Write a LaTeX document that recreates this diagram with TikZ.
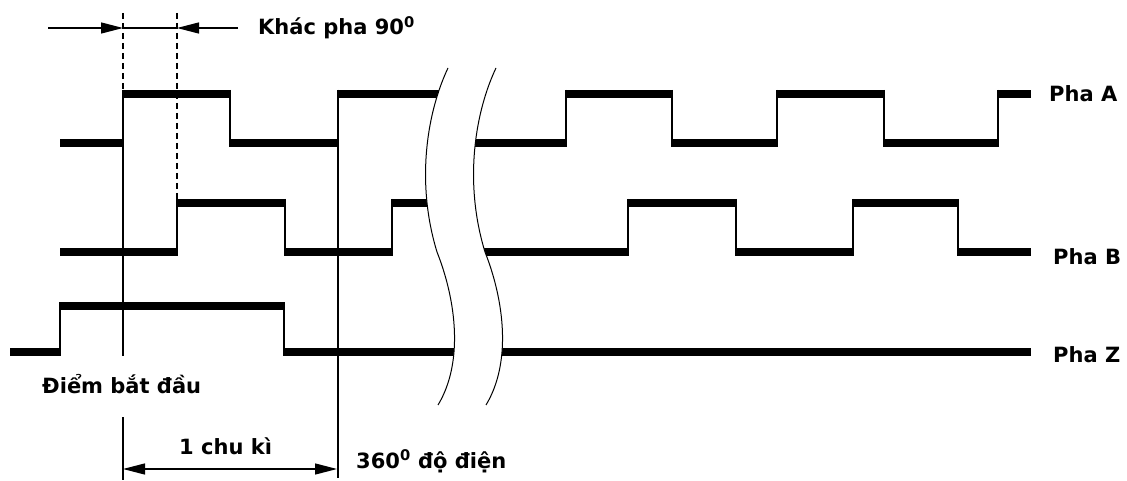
\documentclass[tikz,border=0pt]{standalone}
\usepackage{fontspec}
\setmainfont{DejaVu Sans}
\usetikzlibrary{arrows.meta}
\begin{document}
\begin{tikzpicture}[x=1pt,y=-1pt,
  hseg/.style={line width=8pt},
  vseg/.style={line width=1.6pt},
  lbl/.style={font=\fontsize{21}{25}\selectfont\bfseries, inner sep=0pt, anchor=base west},
  dashline/.style={line width=1.3pt, dash pattern=on 6pt off 4pt},
  refline/.style={line width=1.5pt},
  arr/.style={line width=1.3pt},
  breakline/.style={line width=1pt},
  tipR/.style={-{Triangle[length=22pt,width=11pt]}},
  tipLR/.style={{Triangle[length=22pt,width=11pt]}-{Triangle[length=22pt,width=11pt]}}
]
\useasboundingbox (0,0) rectangle (1127,481);

% ---- Pha A (high 94, low 143)
\draw[hseg] (60,143) -- (123,143) (123,94) -- (230,94) (230,143) -- (338,143)
  (338,94) -- (455,94) (455,143) -- (566,143) (566,94) -- (672,94)
  (672,143) -- (777,143) (777,94) -- (884,94) (884,143) -- (998,143)
  (998,94) -- (1031,94);
\draw[vseg] \foreach \x in {123,230,338,455,566,672,777,884,998} {(\x,90) -- (\x,147)};

% ---- Pha B (high 203, low 252)
\draw[hseg] (60,252) -- (177,252) (177,203) -- (285,203) (285,252) -- (392,252)
  (392,203) -- (455,203) (455,252) -- (628,252) (628,203) -- (736,203)
  (736,252) -- (853,252) (853,203) -- (958,203) (958,252) -- (1031,252);
\draw[vseg] \foreach \x in {177,285,392,455,628,736,853,958} {(\x,199) -- (\x,256)};

% ---- Pha Z (high 306, low 352)
\draw[hseg] (10,352) -- (60,352) (60,306) -- (284,306) (284,352) -- (1031,352);
\draw[vseg] \foreach \x in {60,284} {(\x,302) -- (\x,356)};

% ---- break band
\fill[white] (448,68) .. controls (428,110) and (415,180) .. (437,252)
  .. controls (456,300) and (464,362) .. (438,405)
  -- (486,405) .. controls (512,362) and (504,300) .. (485,252)
  .. controls (463,180) and (476,110) .. (496,68) -- cycle;
\draw[breakline] (448,68) .. controls (428,110) and (415,180) .. (437,252)
  .. controls (456,300) and (464,362) .. (438,405);
\draw[breakline] (496,68) .. controls (476,110) and (463,180) .. (485,252)
  .. controls (504,300) and (512,362) .. (486,405);

% ---- reference lines
\draw[dashline] (123,13) -- (123,90);
\draw[dashline] (177,13) -- (177,199);
\draw[refline] (123,90) -- (123,356);
\draw[refline] (123,417) -- (123,480);
\draw[refline] (338,90) -- (338,478);

% ---- phase-difference arrows
\coordinate (ls) at (48,28);
\coordinate (dA) at (123,28);
\coordinate (dB) at (177,28);
\coordinate (rs) at (238,28);
\draw[arr,tipR] (ls) -- (dA);
\draw[arr,tipR] (rs) -- (dB);
\draw[arr] (dA) -- (dB);

% ---- period arrow
\coordinate (c1) at (123,469);
\coordinate (c2) at (337,469);
\draw[arr,tipLR] (c1) -- (c2);

% ---- labels
\node[lbl] (kp) at (258,35) {Khác pha 90\textsuperscript{0}};
\node[lbl] (pA) at (1049,102) {Pha A};
\node[lbl] (pB) at (1053,265) {Pha B};
\node[lbl] (pZ) at (1053,362) {Pha Z};
\node[lbl] (dbd) at (42,393) {Điểm bắt đầu};
\node[lbl] (ck) at (179,454) {1 chu kì};
\node[lbl] (deg) at (356,468) {360\textsuperscript{0} độ điện};
\end{tikzpicture}
\end{document}
